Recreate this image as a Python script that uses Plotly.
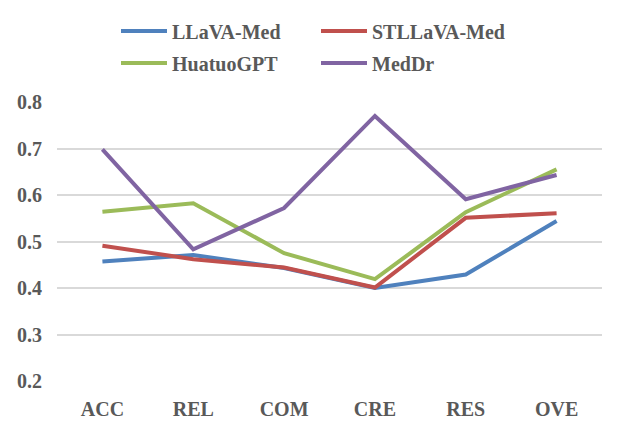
import plotly.graph_objects as go

categories = ["ACC", "REL", "COM", "CRE", "RES", "OVE"]
llava_med = [0.457, 0.471, 0.443, 0.400, 0.429, 0.544]
stllava_med = [0.491, 0.462, 0.444, 0.401, 0.551, 0.561]
huatuogpt = [0.564, 0.582, 0.475, 0.419, 0.563, 0.655]
meddr = [0.698, 0.483, 0.572, 0.770, 0.591, 0.643]

series = [
    ("LLaVA-Med", llava_med, "#4F81BD", "legend"),
    ("STLLaVA-Med", stllava_med, "#C0504D", "legend"),
    ("HuatuoGPT", huatuogpt, "#9BBB59", "legend2"),
    ("MedDr", meddr, "#8064A2", "legend2"),
]

font_family = "Liberation Serif"
txt = "#595959"

fig = go.Figure()
for name, vals, color, lg in series:
    fig.add_trace(go.Scatter(
        x=categories, y=vals, name=name, mode="lines",
        line=dict(color=color, width=4), legend=lg,
    ))

legend_common = dict(
    orientation="h", xref="paper", yref="container", xanchor="left", yanchor="middle",
    font=dict(family=font_family, size=20, color=txt, weight="bold"),
    entrywidth=139, entrywidthmode="pixels", bgcolor="rgba(0,0,0,0)",
    itemwidth=46, tracegroupgap=0,
)

fig.update_layout(
    width=625, height=437,
    margin=dict(l=57, r=23, t=102, b=56, autoexpand=False),
    paper_bgcolor="white", plot_bgcolor="white",
    font=dict(family=font_family, color=txt),
    showlegend=True,
    legend=dict(x=(116 - 57) / 545, y=1 - 31 / 437, **legend_common),
    legend2=dict(x=(116 - 57) / 545, y=1 - 63 / 437, **legend_common),
    xaxis=dict(
        range=[-0.5, 5.5],
        showgrid=False, showline=False, zeroline=False, ticks="",
        tickfont=dict(family=font_family, size=20, color=txt, weight="bold"),
        ticklabelstandoff=14, automargin=False,
    ),
    yaxis=dict(
        range=[0.2, 0.8], dtick=0.1, tick0=0.2, tickformat=".1f",
        showgrid=True, gridcolor="#D9D9D9", gridwidth=1.5,
        showline=False, zeroline=False, ticks="",
        tickfont=dict(family=font_family, size=20, color=txt, weight="bold"),
        ticklabelstandoff=14, automargin=False,
    ),
)

fig.write_html("out.html", post_script="document.body.style.margin='0';",
               config={"displayModeBar": False})
